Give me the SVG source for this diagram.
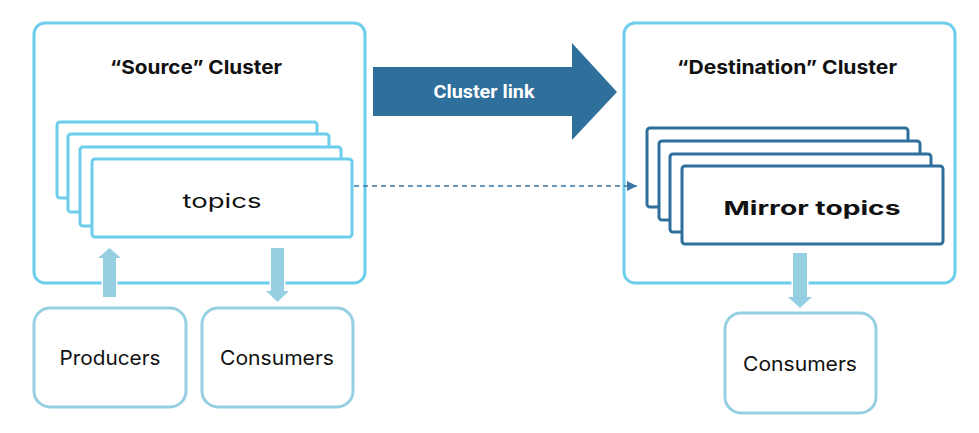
<svg xmlns="http://www.w3.org/2000/svg" width="979" height="433" viewBox="0 0 979 433">
<defs>
<style>
.cluster{fill:#fff;stroke:#6dcdec;stroke-width:3}
.topic{fill:#fff;stroke:#6dcdec;stroke-width:3}
.mirror{fill:#fff;stroke:#2f6f9b;stroke-width:3}
.client{fill:#fff;stroke:#96cfe2;stroke-width:3}
.flow{fill:#96cfe2;stroke:#fff;stroke-width:3;paint-order:stroke}
.title{font-family:Inter,"Noto Sans",sans-serif;font-weight:700;font-size:19px;fill:#111;text-anchor:middle}
.lbl{font-family:Inter,"Noto Sans",sans-serif;font-weight:400;font-size:20px;fill:#111;text-anchor:middle}
</style>
<marker id="ah" viewBox="0 0 10 10" refX="10" refY="5" markerWidth="10" markerHeight="10" markerUnits="userSpaceOnUse" orient="auto">
<path d="M0,0 L10,5 L0,10 z" fill="#3c76a3"/>
</marker>
</defs>
<rect width="979" height="433" fill="#fff"/>
<g id="source-cluster">
<rect class="cluster" x="34" y="23" width="331" height="260" rx="11"/>
<text class="title" x="196" y="74" textLength="172" lengthAdjust="spacingAndGlyphs">“Source” Cluster</text>
</g>
<g id="topics">
<rect class="topic" x="57" y="122" width="260" height="76" rx="3"/>
<rect class="topic" x="68" y="134" width="261" height="78" rx="3"/>
<rect class="topic" x="80" y="147" width="261" height="79" rx="3"/>
<rect class="topic" x="92" y="159" width="260" height="78" rx="3"/>
<text class="lbl" x="222" y="208" font-size="28" font-weight="300" textLength="79" lengthAdjust="spacingAndGlyphs">topics</text>
</g>
<g id="destination-cluster">
<rect class="cluster" x="624" y="23" width="331" height="260" rx="11"/>
<text class="title" x="787" y="74" textLength="220" lengthAdjust="spacingAndGlyphs">“Destination” Cluster</text>
</g>
<g id="mirror-topics">
<rect class="mirror" x="647" y="128" width="261" height="79" rx="3"/>
<rect class="mirror" x="659" y="141" width="261" height="79" rx="3"/>
<rect class="mirror" x="670" y="154" width="261" height="78" rx="3"/>
<rect class="mirror" x="682" y="166" width="261" height="78" rx="3"/>
<text class="title" x="812" y="215" font-size="28" textLength="177" lengthAdjust="spacingAndGlyphs">Mirror topics</text>
</g>
<g id="cluster-link">
<path d="M373,67 H572 V43 L617,92 L572,140 V116 H373 Z" fill="#2f6f9b"/>
<text x="484" y="98" font-family="Roboto,'Noto Sans',sans-serif" font-weight="700" font-size="18" fill="#fff" text-anchor="middle" textLength="101" lengthAdjust="spacingAndGlyphs">Cluster link</text>
</g>
<g id="producers">
<rect class="client" x="34" y="308" width="152" height="99" rx="16"/>
<text class="lbl" x="110" y="365" textLength="101" lengthAdjust="spacingAndGlyphs">Producers</text>
</g>
<g id="consumers-source">
<rect class="client" x="202" y="308" width="151" height="99" rx="16"/>
<text class="lbl" x="277" y="365" textLength="114" lengthAdjust="spacingAndGlyphs">Consumers</text>
</g>
<g id="consumers-destination">
<rect class="client" x="725" y="313" width="151" height="100" rx="16"/>
<text class="lbl" x="800" y="371" textLength="114" lengthAdjust="spacingAndGlyphs">Consumers</text>
</g>
<g id="connectors">
<line x1="354" y1="186" x2="637" y2="186" stroke="#3c76a3" stroke-width="1.5" stroke-dasharray="5,4" marker-end="url(#ah)"/>
<path class="flow" d="M103,297 V258 H98 L109.5,248 L121,258 H116 V297 Z"/>
<path class="flow" d="M271,248 V291 H266 L277.5,302 L289,291 H284 V248 Z"/>
<path class="flow" d="M793,253 V297 H788 L800,308 L812,297 H807 V253 Z"/>
</g>
</svg>
